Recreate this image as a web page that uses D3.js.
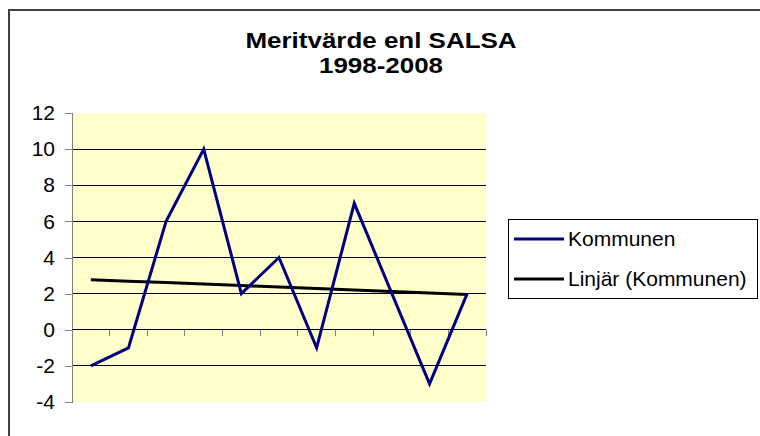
<!DOCTYPE html>
<html>
<head>
<meta charset="utf-8">
<script src="https://cdn.jsdelivr.net/npm/d3@7"></script>
<style>
  body { margin: 0; background: #fff; }
  svg { display: block; font-family: "Liberation Sans", Arial, sans-serif; }
</style>
</head>
<body>
<div id="chart"></div>
<script>
// Data
const years = ["1998", "1999", "2000", "2001", "2002", "2003", "2004", "2005", "2006", "2007", "2008"];
const kommunen = [-2, -1, 6, 10, 2, 4, -1, 7, 2, -3, 2];
const yTicks = [-4, -2, 0, 2, 4, 6, 8, 10, 12];
const titleLines = ["Meritvärde enl SALSA", "1998-2008"];
const legendLabels = ["Kommunen", "Linjär (Kommunen)"];

// Dimensions
const width = 760;
const height = 436;
const marginLeft = 72;
const marginRight = 274;
const marginTop = 113;
const marginBottom = 34;

const svg = d3
  .select("#chart")
  .append("svg")
  .attr("width", width)
  .attr("height", height)
  .attr("viewBox", [0, 0, width, height]);

// Outer chart border (runs off the right/bottom edge)
svg
  .append("rect")
  .attr("x", 9)
  .attr("y", 10)
  .attr("width", width + 20)
  .attr("height", height + 20)
  .attr("fill", "#fff")
  .attr("stroke", "#404040")
  .attr("stroke-width", 2);

// Scales
const xScale = d3
  .scaleBand()
  .domain(years)
  .range([marginLeft, width - marginRight])
  .padding(0);

const yScale = d3
  .scaleLinear()
  .domain([-4, 12])
  .range([height - marginBottom, marginTop]);

// Plot area
svg
  .append("rect")
  .attr("x", marginLeft)
  .attr("y", marginTop)
  .attr("width", xScale.range()[1] - marginLeft)
  .attr("height", yScale(-4) - marginTop)
  .attr("fill", "#FFFFCC");

// Gridlines
svg
  .append("g")
  .attr("class", "grid")
  .selectAll("line")
  .data(yTicks.filter((d) => d > -4 && d < 12))
  .join("line")
  .attr("x1", marginLeft)
  .attr("x2", xScale.range()[1])
  .attr("y1", (d) => yScale(d))
  .attr("y2", (d) => yScale(d))
  .attr("stroke", "#000")
  .attr("stroke-width", 1)
  .attr("shape-rendering", "crispEdges");

// Y axis (plain hyphen minus like the original)
svg
  .append("g")
  .attr("class", "y-axis")
  .attr("transform", `translate(${marginLeft},0)`)
  .call(
    d3.axisLeft(yScale)
      .tickValues(yTicks)
      .tickFormat((d) => String(d))
      .tickSize(7)
      .tickPadding(10),
  )
  .call((g) => g.selectAll("line, path").attr("stroke", "#808080").attr("shape-rendering", "crispEdges"))
  .call((g) =>
    g.selectAll("text").attr("font-size", 21).attr("fill", "#000").attr("font-family", null),
  );

// X axis on zero line, ticks at category boundaries, no labels
const boundaries = years.map((d) => xScale(d)).concat([xScale.range()[1]]);
const xAxisG = svg
  .append("g")
  .attr("class", "x-axis")
  .attr("transform", `translate(0,${yScale(0)})`);

xAxisG
  .append("line")
  .attr("x1", marginLeft)
  .attr("x2", xScale.range()[1])
  .attr("stroke", "#000")
  .attr("shape-rendering", "crispEdges");

xAxisG
  .selectAll(".tick")
  .data(boundaries)
  .join("line")
  .attr("class", "tick")
  .attr("x1", (d) => d)
  .attr("x2", (d) => d)
  .attr("y1", 0)
  .attr("y2", 6)
  .attr("stroke", "#808080")
  .attr("shape-rendering", "crispEdges");

// Linear trend (least squares on the series)
const xs = kommunen.map((d, i) => i);
const meanX = d3.mean(xs);
const meanY = d3.mean(kommunen);
const slope =
  d3.sum(xs, (x, i) => (x - meanX) * (kommunen[i] - meanY)) /
  d3.sum(xs, (x) => (x - meanX) ** 2);
const intercept = meanY - slope * meanX;
const trend = years.map((y, i) => intercept + slope * i);

const line = d3
  .line()
  .x((d, i) => xScale(years[i]) + xScale.bandwidth() / 2)
  .y((d) => yScale(d));

svg
  .append("path")
  .datum(trend)
  .attr("fill", "none")
  .attr("stroke", "#000")
  .attr("stroke-width", 3)
  .attr("d", line);

svg
  .append("path")
  .datum(kommunen)
  .attr("fill", "none")
  .attr("stroke", "#000080")
  .attr("stroke-width", 3)
  .attr("stroke-linejoin", "miter")
  .attr("d", line);

// Title (original is a bit wider than Liberation Sans, so stretch it)
svg
  .append("g")
  .attr("transform", "translate(381,0) scale(1.18,1)")
  .append("text")
  .attr("text-anchor", "middle")
  .attr("font-weight", 700)
  .attr("font-size", 22)
  .selectAll("tspan")
  .data(titleLines)
  .join("tspan")
  .attr("x", 0)
  .attr("y", (d, i) => 48 + i * 25)
  .text((d) => d);

// Legend
const legend = svg.append("g").attr("class", "legend").attr("transform", "translate(508,219)");

legend
  .append("rect")
  .attr("width", 249)
  .attr("height", 79)
  .attr("fill", "#fff")
  .attr("stroke", "#000")
  .attr("stroke-width", 1)
  .attr("shape-rendering", "crispEdges");

const legendColors = ["#000080", "#000"];
const items = legend
  .selectAll(".item")
  .data(legendLabels)
  .join("g")
  .attr("class", "item")
  .attr("transform", (d, i) => `translate(0,${20 + i * 40})`);

items
  .append("line")
  .attr("x1", 6)
  .attr("x2", 56)
  .attr("stroke", (d, i) => legendColors[i])
  .attr("stroke-width", 3);

items
  .append("text")
  .attr("x", 60)
  .attr("y", 7)
  .attr("font-size", 21)
  .text((d) => d);
</script>
</body>
</html>
